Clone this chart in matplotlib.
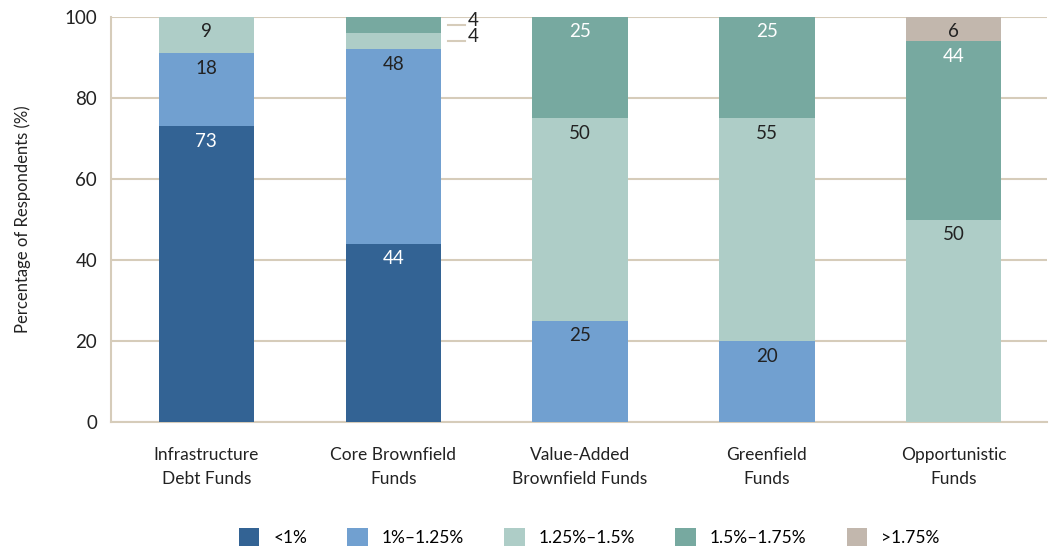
import matplotlib.pyplot as plt
import numpy as np

plt.rcParams['font.family'] = ['Lato', 'DejaVu Sans']

funds = ['Infrastructure\nDebt Funds', 'Core Brownfield\nFunds', 'Value-Added\nBrownfield Funds',
         'Greenfield\nFunds', 'Opportunistic\nFunds']
bands = ['<1%', '1%–1.25%', '1.25%–1.5%', '1.5%–1.75%', '>1.75%']
lt1 = [73, 44, 0, 0, 0]
b1_125 = [18, 48, 25, 20, 0]
b125_15 = [9, 4, 50, 55, 50]
b15_175 = [0, 4, 25, 25, 44]
gt175 = [0, 0, 0, 0, 6]

colors = ['#336394', '#71a0d0', '#aecdc7', '#77a9a0', '#c2b7ad']
text_colors = ['white', '#222222', '#222222', 'white', '#222222']
grid_col = '#d6ccba'

series = np.array([lt1, b1_125, b125_15, b15_175, gt175], dtype=float)
x = np.arange(len(funds))
w = 0.51

fig = plt.figure(figsize=(10.52, 5.47), dpi=100)
ax = fig.add_axes([0.1055, 0.228, 0.89, 0.741])

bottom = np.zeros(len(funds))
for i, vals in enumerate(series):
    ax.bar(x, vals, w, bottom=bottom, color=colors[i], label=bands[i], zorder=3)
    for j, v in enumerate(vals):
        if v == 0:
            continue
        top = bottom[j] + v
        if v < 5 and j == 1:
            # thin slices get a leader line to the right of the bar
            mid = bottom[j] + v / 2
            ax.plot([x[j] + w / 2 + 0.04, x[j] + w / 2 + 0.13], [mid, mid],
                    color=grid_col, lw=1.5, clip_on=False, zorder=4)
            ax.text(x[j] + w / 2 + 0.145, mid + 1.2, f'{v:g}', ha='left', va='center',
                    fontsize=13.5, color='#222222', clip_on=False)
        else:
            ax.text(x[j], top - 1.6, f'{v:g}', ha='center', va='top',
                    fontsize=13.5, color=text_colors[i], zorder=5)
    bottom += vals

ax.set_xlim(-0.51, 4.5)
ax.set_ylim(0, 100)
ax.set_yticks([0, 20, 40, 60, 80, 100])
ax.set_xticks(x)
ax.set_xticklabels(funds, fontsize=12.5, color='#222222', linespacing=1.6)
ax.tick_params(axis='both', length=0, labelsize=13.5, colors='#222222')
ax.tick_params(axis='x', pad=18, labelsize=12.5)
ax.tick_params(axis='y', pad=10)
ax.yaxis.grid(True, color=grid_col, lw=1.5, zorder=0)
ax.set_ylabel('Percentage of Respondents (%)', fontsize=12, color='#222222', labelpad=24)
for s in ['top', 'right']:
    ax.spines[s].set_visible(False)
for s in ['left', 'bottom']:
    ax.spines[s].set_color(grid_col)
    ax.spines[s].set_linewidth(1.5)

fig.legend(loc='lower center', ncol=5, frameon=False, fontsize=12.5,
           bbox_to_anchor=(0.56, -0.027), handlelength=1.2, handleheight=1.2,
           columnspacing=2.3, handletextpad=0.8)

fig.savefig('out.png', dpi=100)
